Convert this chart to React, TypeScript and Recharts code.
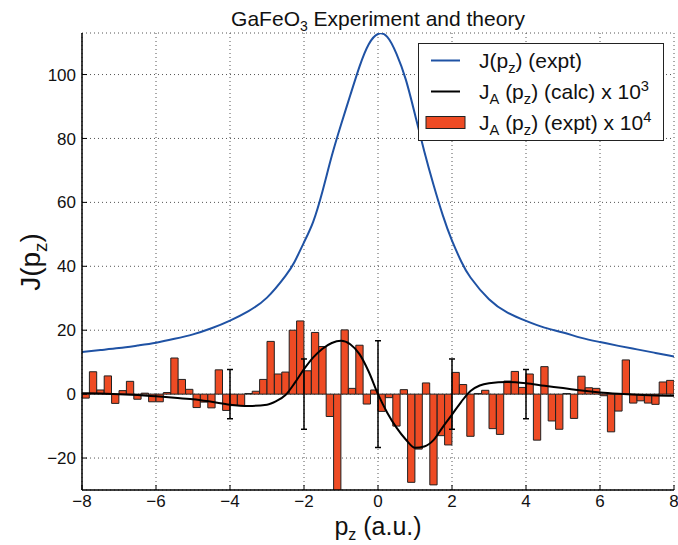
import React from 'react';
import {
  ComposedChart,
  Bar,
  Line,
  Scatter,
  ErrorBar,
  XAxis,
  YAxis,
  CartesianGrid,
  Legend,
  Customized
} from 'recharts';

const FONT = '"Liberation Sans", Arial, Helvetica, sans-serif';

// J(pz) experimental Compton profile
const PROFILE_X = [-8, -7.5, -7, -6.5, -6, -5.5, -5, -4.5, -4, -3.5, -3, -2.5, -2.25, -2, -1.75, -1.5, -1.25, -1, -0.75, -0.5, -0.25, 0, 0.25, 0.5, 0.75, 1, 1.25, 1.5, 1.75, 2, 2.25, 2.5, 3, 3.5, 4, 4.5, 5, 5.5, 6, 6.5, 7, 7.5, 8];
const PROFILE_Y = [13.2, 13.8, 14.4, 15.2, 16.1, 17.3, 18.7, 20.6, 23, 26, 30.2, 37, 41.5, 47.5, 54, 63.5, 74.5, 84.3, 93.5, 102.5, 109.5, 112.7, 111.8, 106.5, 98.5, 87.5, 76, 65.5, 56, 48, 41.5, 36.5, 29.7, 25.5, 22.9, 20.8, 19.3, 17.6, 16.3, 15.1, 14, 12.9, 11.8];

// J_A(pz) calculated, x 10^3
const CALC_X = [-8, -7.5, -7, -6.5, -6, -5.5, -5, -4.5, -4, -3.5, -3, -2.75, -2.5, -2.25, -2, -1.75, -1.5, -1.25, -1, -0.75, -0.5, -0.25, 0, 0.25, 0.5, 0.75, 1, 1.25, 1.5, 1.75, 2, 2.25, 2.5, 2.75, 3, 3.5, 4, 4.5, 5, 5.5, 6, 6.5, 7, 7.5, 8];
const CALC_Y = [0.3, 0.2, 0, -0.3, -0.7, -1.1, -1.6, -2.4, -3.3, -3.7, -3.3, -2.2, -0.3, 3.5, 7.8, 11.5, 14.2, 16.0, 16.7, 15.6, 12.5, 7, 0, -5.8, -10.5, -14.2, -16.8, -16.4, -14.4, -10.3, -6.4, -2.4, 1.0, 2.7, 3.4, 3.8, 3.4, 2.6, 1.9, 1.1, 0.5, 0.1, -0.2, -0.4, -0.5];

// J_A(pz) experimental, x 10^4, bins of 0.2 a.u.
const BIN_X = [
  -7.9, -7.7, -7.5, -7.3, -7.1, -6.9, -6.7, -6.5, -6.3, -6.1,
  -5.9, -5.7, -5.5, -5.3, -5.1, -4.9, -4.7, -4.5, -4.3, -4.1,
  -3.9, -3.7, -3.5, -3.3, -3.1, -2.9, -2.7, -2.5, -2.3, -2.1,
  -1.9, -1.7, -1.5, -1.3, -1.1, -0.9, -0.7, -0.5, -0.3, -0.1,
  0.1, 0.3, 0.5, 0.7, 0.9, 1.1, 1.3, 1.5, 1.7, 1.9,
  2.1, 2.3, 2.5, 2.7, 2.9, 3.1, 3.3, 3.5, 3.7, 3.9,
  4.1, 4.3, 4.5, 4.7, 4.9, 5.1, 5.3, 5.5, 5.7, 5.9,
  6.1, 6.3, 6.5, 6.7, 6.9, 7.1, 7.3, 7.5, 7.7, 7.9
];
const BIN_Y = [
  -1.25, 7.0, 1.3, 5.7, -2.9, 1.1, 4.0, -1.6, 0.3, -2.4,
  -2.4, 0.5, 11.3, 4.6, 1.5, -4.2, -2.5, -4.3, 7.6, -5.1,
  -3.6, -3.6, 0.2, 0.9, 4.6, 16.5, 6.3, 6.9, 20.0, 22.9,
  7.3, 19.3, 14.9, -7.0, -31, 20.1, 1.8, 15.3, -3.1, 1.3,
  -5.4, -1.1, -10.0, 1.4, -27.6, -17.2, 3.5, -28.4, -13.0, -15.9,
  6.8, 3.0, -13.2, 0.2, 1.2, -10.8, -12.6, 4.1, 7.1, 2.1,
  6.3, -14.4, 8.6, -8.4, -11.0, 0.2, -7.6, 5.6, 2.0, 1.8,
  -0.5, -11.8, -5.3, 10.7, -2.8, -2.1, -2.8, -3.2, 3.8, 4.3
];

// error bars on the experimental anisotropy
const ERR_X = [-4, -2, 0, 2, 4];
const ERR_Y = [0, 0, 0, 0, 0];
const ERR_SIZE = [7.7, 11, 16.7, 11, 7.7];

const X_TICKS = [-8, -6, -4, -2, 0, 2, 4, 6, 8];
const Y_TICKS = [-20, 0, 20, 40, 60, 80, 100];
const X_DOMAIN = [-8, 8];
const Y_DOMAIN = [-30, 113];

const BLUE = '#1f52a4';
const ORANGE = '#ee4b24';

const profileData = PROFILE_X.map((x, i) => ({ x, y: PROFILE_Y[i] }));
const calcData = CALC_X.map((x, i) => ({ x, y: CALC_Y[i] }));
const binData = BIN_X.map((x, i) => ({ x, v: BIN_Y[i] }));
const errData = ERR_X.map((x, i) => ({ x, y: ERR_Y[i], err: ERR_SIZE[i] }));

const fmt = (v: number) => (v < 0 ? '\u2212' + Math.abs(v) : String(v));

const TICK_LEN = 5;
const X_MARGIN = 5;
const Y_MARGIN = 6;

const BottomTick = (props: any) => {
  const { x, y, payload } = props;
  const axisY = y - X_MARGIN;
  return (
    <g>
      <line x1={x} x2={x} y1={axisY} y2={axisY - TICK_LEN} stroke="#000" strokeWidth={1} />
      <text x={x} y={y} dy="0.72em" textAnchor="middle" fontSize={17} fontFamily={FONT} fill="#111">
        {fmt(payload.value)}
      </text>
    </g>
  );
};

const LeftTick = (props: any) => {
  const { x, y, payload } = props;
  const axisX = x + Y_MARGIN;
  return (
    <g>
      <line x1={axisX} x2={axisX + TICK_LEN} y1={y} y2={y} stroke="#000" strokeWidth={1} />
      <text x={x} y={y} dy="0.36em" textAnchor="end" fontSize={17} fontFamily={FONT} fill="#111">
        {fmt(payload.value)}
      </text>
    </g>
  );
};

const TopTick = (props: any) => {
  const { x, y } = props;
  return <line x1={x} x2={x} y1={y} y2={y + TICK_LEN} stroke="#000" strokeWidth={1} />;
};

const RightTick = (props: any) => {
  const { x, y } = props;
  return <line x1={x} x2={x - TICK_LEN} y1={y} y2={y} stroke="#000" strokeWidth={1} />;
};

const Texts = () => (
  <g fontFamily={FONT} fill="#111">
    <text x={378} y={26} textAnchor="middle" fontSize={21}>
      GaFeO<tspan dy={5} fontSize={14}>3</tspan>
      <tspan dy={-5}> Experiment and theory</tspan>
    </text>
    <text x={378} y={535} textAnchor="middle" fontSize={25}>
      p<tspan dy={5} fontSize={16}>z</tspan>
      <tspan dy={-5}> (a.u.)</tspan>
    </text>
    <text transform="translate(40, 262) rotate(-90)" textAnchor="middle" fontSize={28}>
      J(p<tspan dy={7} fontSize={19}>z</tspan>
      <tspan dy={-7}>)</tspan>
    </text>
  </g>
);

const sub = { fontSize: '0.7em', position: 'relative' as const, top: '0.35em' };
const sup = { fontSize: '0.7em', position: 'relative' as const, top: '-0.5em' };

const LegendBox = () => {
  const row = { height: 31, display: 'flex', alignItems: 'center', whiteSpace: 'nowrap' as const };
  return (
    <div
      style={{
        width: 246,
        height: 98,
        border: '1px solid #222',
        boxSizing: 'border-box',
        background: '#fff',
        fontFamily: FONT,
        fontSize: 21,
        color: '#111',
        paddingTop: 1
      }}
    >
      <div style={row}>
        <svg width={60} height={31}>
          <line x1={12} x2={41} y1={15.5} y2={15.5} stroke={BLUE} strokeWidth={2} />
        </svg>
        <span>J(p<span style={sub}>z</span>) (expt)</span>
      </div>
      <div style={row}>
        <svg width={60} height={31}>
          <line x1={12} x2={41} y1={15.5} y2={15.5} stroke="#000" strokeWidth={2} />
        </svg>
        <span>J<span style={sub}>A</span> (p<span style={sub}>z</span>) (calc) x 10<span style={sup}>3</span></span>
      </div>
      <div style={row}>
        <svg width={60} height={31}>
          <rect x={7} y={9.5} width={39} height={12} fill={ORANGE} stroke="#222" strokeWidth={1} />
        </svg>
        <span>J<span style={sub}>A</span> (p<span style={sub}>z</span>) (expt) x 10<span style={sup}>4</span></span>
      </div>
    </div>
  );
};

export default function App() {
  return (
    <div style={{ position: 'absolute', left: 0, top: 0, background: '#fff' }}>
      <ComposedChart
        width={678}
        height={545}
        data={binData}
        margin={{ top: 33, right: 4, bottom: 25, left: 0 }}
      >
        <CartesianGrid stroke="#555" strokeDasharray="1 3" strokeWidth={1} />
        <XAxis
          dataKey="x"
          type="number"
          domain={X_DOMAIN}
          ticks={X_TICKS}
          allowDataOverflow
          height={30}
          tickSize={0}
          tickMargin={X_MARGIN}
          tick={<BottomTick />}
          axisLine={{ stroke: '#000', strokeWidth: 1.5 }}
          tickLine={false}
          interval={0}
        />
        <XAxis
          xAxisId="bars"
          dataKey="x"
          type="number"
          domain={X_DOMAIN}
          allowDataOverflow
          hide
        />
        <XAxis
          xAxisId="top"
          orientation="top"
          type="number"
          domain={X_DOMAIN}
          ticks={X_TICKS}
          allowDataOverflow
          height={0}
          tickSize={0}
          tickMargin={0}
          tick={<TopTick />}
          axisLine={{ stroke: '#000', strokeWidth: 1.5 }}
          tickLine={false}
          interval={0}
        />
        <YAxis
          type="number"
          domain={Y_DOMAIN}
          ticks={Y_TICKS}
          allowDataOverflow
          width={82}
          tickSize={0}
          tickMargin={Y_MARGIN}
          tick={<LeftTick />}
          axisLine={{ stroke: '#000', strokeWidth: 1.5 }}
          tickLine={false}
          interval={0}
        />
        <YAxis
          yAxisId="right"
          orientation="right"
          type="number"
          domain={Y_DOMAIN}
          ticks={Y_TICKS}
          allowDataOverflow
          width={0}
          tickSize={0}
          tickMargin={0}
          tick={<RightTick />}
          axisLine={{ stroke: '#000', strokeWidth: 1.5 }}
          tickLine={false}
          interval={0}
        />
        <Bar
          xAxisId="bars"
          dataKey="v"
          barSize={7.3}
          fill={ORANGE}
          stroke="#222"
          strokeWidth={1}
          isAnimationActive={false}
        />
        <Scatter
          data={errData}
          dataKey="y"
          shape={() => <g />}
          isAnimationActive={false}
        >
          <ErrorBar dataKey="err" direction="y" width={3} stroke="#000" strokeWidth={1.5} />
        </Scatter>
        <Line
          data={calcData}
          dataKey="y"
          type="monotone"
          stroke="#000"
          strokeWidth={2}
          dot={false}
          isAnimationActive={false}
        />
        <Line
          data={profileData}
          dataKey="y"
          type="natural"
          stroke={BLUE}
          strokeWidth={2}
          dot={false}
          isAnimationActive={false}
        />
        <Legend
          layout="vertical"
          align="center"
          verticalAlign="middle"
          wrapperStyle={{ left: 418, top: 43, width: 246, height: 98 }}
          content={<LegendBox />}
        />
        <Customized component={Texts} />
      </ComposedChart>
    </div>
  );
}
